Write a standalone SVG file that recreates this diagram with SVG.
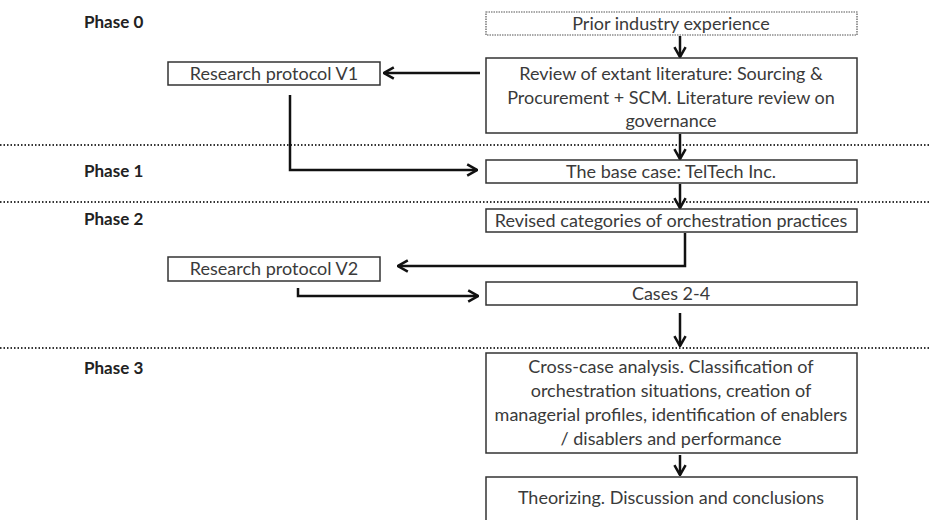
<svg xmlns="http://www.w3.org/2000/svg" width="930" height="520" viewBox="0 0 930 520">
<style>
.box{fill:#fff;stroke:#333;stroke-width:1.5}
.dbox{fill:#fff;stroke:#555;stroke-width:1.2;stroke-dasharray:1.5 1}
.t{font-family:Lato,"Open Sans",sans-serif;font-size:18px;fill:#3a3a3a;text-anchor:middle}
.ph{font-family:Lato,"Open Sans",sans-serif;font-size:17px;font-weight:bold;fill:#222}
.sep{stroke:#333;stroke-width:2;stroke-dasharray:1.5 2}
.c{fill:none;stroke:#111;stroke-width:2.5}
</style>
<defs>
<marker id="ahL" viewBox="0 0 10 10" refX="9" refY="5" markerWidth="14" markerHeight="14" orient="auto" markerUnits="userSpaceOnUse">
<path d="M2,1 L9,5 L2,9" fill="none" stroke="#111" stroke-width="1.8"/>
</marker>
</defs>
<g id="separators">
<line class="sep" x1="0" y1="145" x2="930" y2="145"/>
<line class="sep" x1="0" y1="202" x2="930" y2="202"/>
<line class="sep" x1="0" y1="348" x2="930" y2="348"/>
</g>
<g id="phases">
<text class="ph" x="84" y="28">Phase 0</text>
<text class="ph" x="84" y="177">Phase 1</text>
<text class="ph" x="84" y="225">Phase 2</text>
<text class="ph" x="84" y="374">Phase 3</text>
</g>
<g id="connectors">
<line class="c" x1="680" y1="36" x2="680" y2="57" marker-end="url(#ahL)"/>
<line class="c" x1="480" y1="73" x2="384" y2="73" marker-end="url(#ahL)"/>
<polyline class="c" points="290,95 290,170 477,170" marker-end="url(#ahL)"/>
<line class="c" x1="680" y1="134" x2="680" y2="159" marker-end="url(#ahL)"/>
<line class="c" x1="680" y1="184" x2="680" y2="208" marker-end="url(#ahL)"/>
<polyline class="c" points="685,233 685,266 398,266" marker-end="url(#ahL)"/>
<polyline class="c" points="298,288 298,296 478,296" marker-end="url(#ahL)"/>
<line class="c" x1="680" y1="313" x2="680" y2="346" marker-end="url(#ahL)"/>
<line class="c" x1="680" y1="455" x2="680" y2="475" marker-end="url(#ahL)"/>
</g>
<g id="prior">
<rect class="dbox" x="486" y="12" width="371" height="23"/>
<text class="t" x="671" y="30">Prior industry experience</text>
</g>
<g id="review">
<rect class="box" x="486" y="58" width="371" height="75"/>
<text class="t" x="671" y="80">Review of extant literature: Sourcing &amp;</text>
<text class="t" x="671" y="104">Procurement + SCM. Literature review on</text>
<text class="t" x="671" y="127">governance</text>
</g>
<g id="rpv1">
<rect class="box" x="168" y="62" width="212" height="23"/>
<text class="t" x="274" y="80">Research protocol V1</text>
</g>
<g id="basecase">
<rect class="box" x="486" y="160" width="371" height="23"/>
<text class="t" x="671" y="178">The base case: TelTech Inc.</text>
</g>
<g id="revised">
<rect class="box" x="486" y="209" width="371" height="23"/>
<text class="t" x="671" y="227">Revised categories of orchestration practices</text>
</g>
<g id="rpv2">
<rect class="box" x="168" y="257" width="212" height="24"/>
<text class="t" x="274" y="275">Research protocol V2</text>
</g>
<g id="cases">
<rect class="box" x="486" y="282" width="371" height="23"/>
<text class="t" x="671" y="300">Cases 2-4</text>
</g>
<g id="crosscase">
<rect class="box" x="486" y="353" width="371" height="100"/>
<text class="t" x="671" y="373">Cross-case analysis. Classification of</text>
<text class="t" x="671" y="397">orchestration situations, creation of</text>
<text class="t" x="671" y="421">managerial profiles, identification of enablers</text>
<text class="t" x="671" y="445">/ disablers and performance</text>
</g>
<g id="theorizing">
<rect class="box" x="486" y="477" width="371" height="50"/>
<text class="t" x="671" y="504">Theorizing. Discussion and conclusions</text>
</g>
</svg>
